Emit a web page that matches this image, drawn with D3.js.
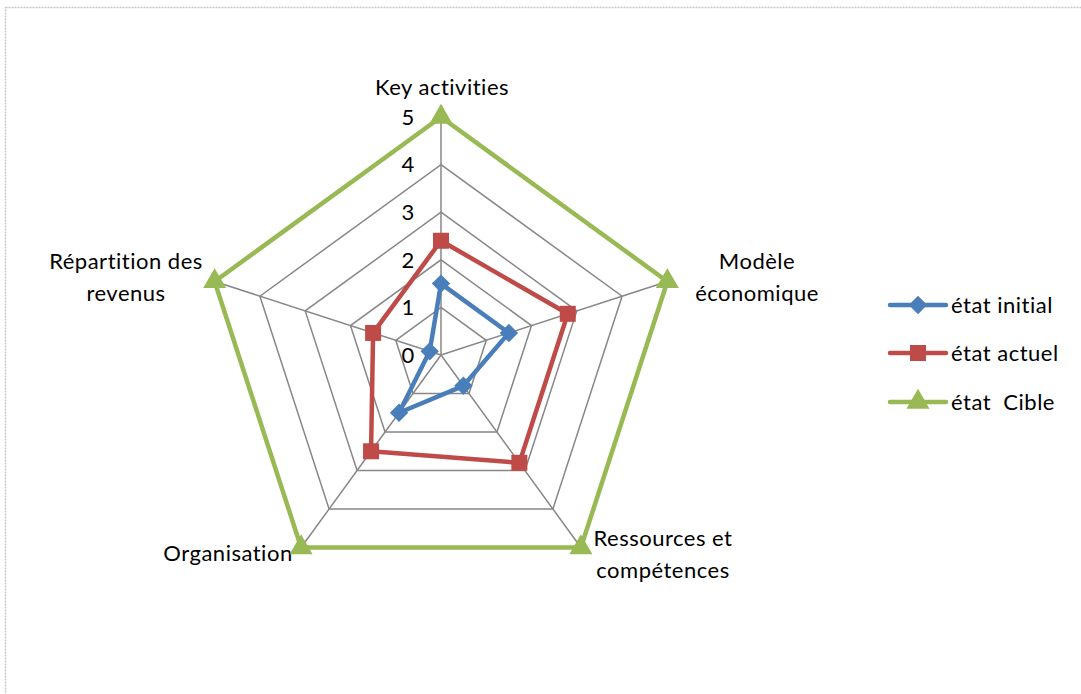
<!DOCTYPE html>
<html>
<head>
<meta charset="utf-8">
<script src="https://cdn.jsdelivr.net/npm/d3@7"></script>
<style>
  body { margin: 0; background: #fff; }
  text { font-family: Lato, "Open Sans", sans-serif; fill: #000; }
</style>
</head>
<body>
<svg id="chart" width="1081" height="694"></svg>
<script>
// axes of the radar, clockwise from the top
const axes = ["Key activities", "Modèle économique", "Ressources et compétences", "Organisation", "Répartition des revenus"];
const axisLabelLines = [["Key activities"], ["Modèle", "économique"], ["Ressources et", "compétences"], ["Organisation"], ["Répartition des", "revenus"]];
const ticks = [0, 1, 2, 3, 4, 5];

const seriesNames = ["état initial", "état actuel", "état  Cible"];
const etatInitial = [1.5, 1.5, 0.8, 1.5, 0.25];
const etatActuel = [2.4, 2.8, 2.8, 2.5, 1.5];
const etatCible = [5, 5, 5, 5, 5];

const colors = ["#4A7EBB", "#BE4B48", "#98B954"];

const svg = d3.select("#chart");
const cx = 441, cy = 355, R = 238;

// dotted frame (only top/left are visible in the picture)
svg.append("rect")
    .attr("x", 5.5).attr("y", 7.5)
    .attr("width", 1090).attr("height", 700)
    .attr("fill", "none")
    .attr("stroke", "#c8c8c8")
    .attr("stroke-width", 1.5)
    .attr("stroke-dasharray", "2,1");

const r = d3.scaleLinear().domain([0, 5]).range([0, R]);
const angle = i => -Math.PI / 2 + i * 2 * Math.PI / axes.length;
const pt = (v, i) => [cx + r(v) * Math.cos(angle(i)), cy + r(v) * Math.sin(angle(i))];

// grid pentagons
const grid = svg.append("g");
ticks.slice(1).forEach(t => {
    grid.append("path")
        .attr("d", d3.line()(axes.map((a, i) => pt(t, i))) + "Z")
        .attr("fill", "none")
        .attr("stroke", "#878787")
        .attr("stroke-width", 1.5);
});
axes.forEach((a, i) => {
    const p = pt(5, i);
    grid.append("line")
        .attr("x1", cx).attr("y1", cy)
        .attr("x2", p[0]).attr("y2", p[1])
        .attr("stroke", "#878787")
        .attr("stroke-width", 1.5);
});

// tick labels along the first axis
grid.selectAll(".tick").data(ticks).enter()
    .append("text")
    .attr("x", cx - 33)
    .attr("y", d => cy - r(d))
    .attr("dy", "0.35em")
    .attr("text-anchor", "middle")
    .style("font-size", "22px")
    .text(d => d);

// axis labels
const labelPos = [[442, 87], [757, 261], [663, 538], [228, 553], [126, 261]];
axisLabelLines.forEach((lines, i) => {
    const t = svg.append("text")
        .attr("x", labelPos[i][0])
        .attr("y", labelPos[i][1])
        .attr("text-anchor", "middle")
        .style("font-size", "22px")
        .style("letter-spacing", "0.5px");
    lines.forEach((l, k) => {
        t.append("tspan")
            .attr("x", labelPos[i][0])
            .attr("dy", k === 0 ? "0.35em" : "32px")
            .text(l);
    });
});

// markers: diamond is a square turned 45deg, like the spreadsheet one
function marker(sel, s) {
    if (s === 0) {
        sel.append("rect")
            .attr("x", -6.5).attr("y", -6.5)
            .attr("width", 13).attr("height", 13)
            .attr("transform", "rotate(45)")
            .attr("fill", colors[s]);
    } else if (s === 1) {
        sel.append("rect")
            .attr("x", -8).attr("y", -8)
            .attr("width", 16).attr("height", 16)
            .attr("fill", colors[s]);
    } else {
        sel.append("path")
            .attr("d", d3.symbol().type(d3.symbolTriangle).size(230))
            .attr("fill", colors[s]);
    }
}

// series
const series = [etatInitial, etatActuel, etatCible];
[2, 1, 0].forEach(s => {
    const pts = series[s].map((v, i) => pt(v, i));
    const g = svg.append("g");
    g.append("path")
        .attr("d", d3.line()(pts) + "Z")
        .attr("fill", "none")
        .attr("stroke", colors[s])
        .attr("stroke-width", 4.5)
        .attr("stroke-linejoin", "round");
    pts.forEach(p => {
        marker(g.append("g").attr("transform", `translate(${p[0]},${p[1]})`), s);
    });
});

// legend
const legend = svg.append("g");
const legendY = [305, 353, 402];
seriesNames.forEach((n, s) => {
    legend.append("line")
        .attr("x1", 890).attr("x2", 946)
        .attr("y1", legendY[s]).attr("y2", legendY[s])
        .attr("stroke", colors[s])
        .attr("stroke-width", 4.5)
        .attr("stroke-linecap", "round");
    marker(legend.append("g").attr("transform", `translate(918,${legendY[s]})`), s);
    legend.append("text")
        .attr("x", 951)
        .attr("y", legendY[s])
        .attr("dy", "0.35em")
        .style("font-size", "22px")
        .style("letter-spacing", "0.5px")
        .style("white-space", "pre")
        .text(n);
});
</script>
</body>
</html>
